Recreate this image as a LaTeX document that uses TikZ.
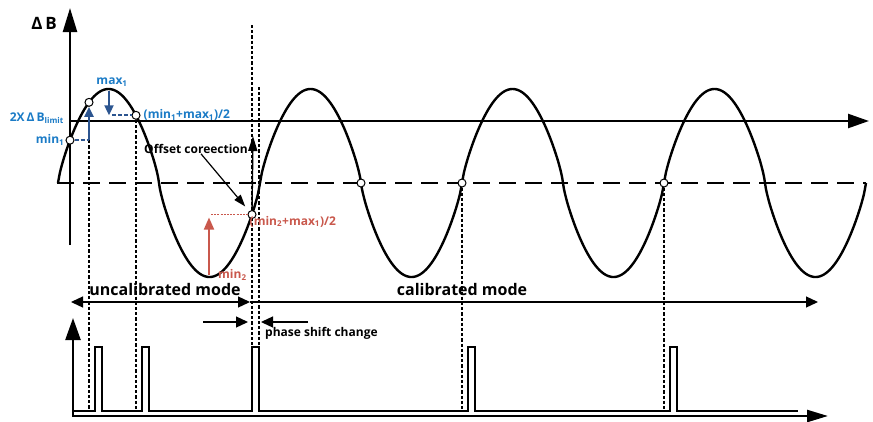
\documentclass[tikz,border=0pt]{standalone}
\usepackage{fontspec}
\setmainfont{Open Sans}
\usepackage{tikz}
\usetikzlibrary{arrows.meta,positioning}
\definecolor{calblue}{HTML}{1B7BC6}
\definecolor{calnavy}{HTML}{2C5590}
\definecolor{calred}{HTML}{C9584C}

\begin{document}
\begin{tikzpicture}[x=1pt,y=-1pt,
  declare function={ph(\t)=sin((\t-58)/202*360);
    wv(\t)=183-94*(ph(\t)<0 ? -1 : 1)*exp(0.78*ln(abs(ph(\t))+0.0001));},
  ax/.style={line width=2.4pt},
  wave/.style={line width=2.4pt,line join=round},
  dot/.style={circle,draw,fill=white,line width=1pt,inner sep=0pt,minimum size=8pt},
  vdot/.style={line width=2.1pt,dash pattern=on 3.2pt off 2pt},
  navyarr/.style={calnavy,line width=2pt,-{Triangle[length=10pt,width=9pt]}},
  navydash/.style={calnavy,line width=1.8pt,dash pattern=on 4pt off 2pt},
  redarr/.style={calred,line width=1.8pt,-{Triangle[length=12pt,width=10pt]}},
  reddot/.style={calred,line width=1pt,dash pattern=on 2pt off 1.2pt},
  thinarr/.style={line width=1.2pt,-{Triangle[length=12pt,width=8pt]}},
  modearr/.style={line width=1.3pt},
  lbl/.style={font=\bfseries\fontsize{12}{14}\selectfont,inner sep=0pt},
  bluelbl/.style={lbl,text=calblue},
  redlbl/.style={lbl,text=calred},
  modelbl/.style={font=\bfseries\fontsize{16}{18}\selectfont,inner sep=0pt}]
  \useasboundingbox (0,0) rectangle (873,421);

  \coordinate (pk1) at (109,91);
  \coordinate (tr1) at (209,275);
  \coordinate (oc) at (253,136);
  \coordinate (t1) at (252,25);
  \coordinate (t2) at (259,87);
  \coordinate (bt) at (0,411);
  \coordinate (ml) at (71,302);
  \coordinate (mm) at (250,302);
  \coordinate (mr) at (818,302);

  \draw[ax,-{Triangle[length=24pt,width=14pt]}] (70,245) -- (70,8);
  \draw[ax,line width=2.2pt,dash pattern=on 17pt off 9pt] (57,183) -- (866,183);
  \draw[wave] plot[domain=58:866,samples=405,smooth] (\x,{wv(\x)});
  \draw[ax,-{Triangle[length=21pt,width=14pt]}] (70,121) -- (869,121);
  \node[font=\bfseries\fontsize{17}{20}\selectfont] (dB) at (44,23) {Δ\,B};

  \draw[vdot] (t1) -- (t1 |- bt);
  \draw[vdot] (t2) -- (259,347);

  \node[dot] (m1) at (70,{wv(70)}) {};
  \node[dot] (x1) at (89,{wv(89)}) {};
  \node[dot] (h1) at (136,{wv(136)}) {};
  \node[dot] (h2) at (252,{wv(252)}) {};
  \node[dot] (z1) at (361,183) {};
  \node[dot] (z2) at (462,183) {};
  \node[dot] (z3) at (664,183) {};

  \draw[vdot] (x1 |- m1) -- (x1 |- bt);
  \draw[vdot] (h1.south) -- (h1 |- bt);
  \draw[vdot] (z2.south) -- (z2 |- bt);
  \draw[vdot] (z3.south) -- (z3 |- bt);

  \draw[navydash] (m1.east) -- (x1 |- m1);
  \draw[navyarr] (x1 |- m1) -- (x1.south);
  \draw[navyarr] (pk1) -- (pk1 |- h1);
  \draw[navydash] ([xshift=3pt]pk1 |- h1) -- (h1.west);
  \node[bluelbl] (lmax) at (112,82) {max\textsubscript{1}};
  \node[bluelbl,anchor=west] (lmid) at ([xshift=3pt]h1.east) {(min\textsubscript{1}+max\textsubscript{1})/2};
  \node[bluelbl,anchor=east] (llim) at (64,118) {2X\,Δ\,B\textsubscript{limit}};
  \node[bluelbl,anchor=east] (lmin) at ([xshift=-1pt]m1.west) {min\textsubscript{1}};

  \draw[reddot] ([xshift=2pt]tr1 |- h2) -- (h2.west);
  \draw[redarr,shorten >=3pt] (tr1) -- (tr1 |- h2);
  \node[redlbl,anchor=west] (lmin2) at ([xshift=9pt]tr1) {min\textsubscript{2}};
  \node[redlbl,anchor=west] (lmid2) at ([xshift=2pt,yshift=-7pt]h2.west) {(min\textsubscript{2}+max\textsubscript{1})/2};

  \draw[line width=1.4pt,-{Triangle[length=15pt,width=9pt]}] (h2.north) -- (oc);
  \node[lbl,anchor=east] (locr) at (248,149) {Offset coreection};
  \draw[thinarr,shorten >=6pt] ([xshift=5pt]locr.south) -- (h2);

  \draw[modearr,{Triangle[length=12pt,width=11pt]}-{Triangle[length=12pt,width=11pt]}] (ml) -- (mm);
  \draw[modearr,-{Triangle[length=12pt,width=11pt]}] (mm) -- (mr);
  \node[modelbl] (lunc) at (165,289) {uncalibrated mode};
  \node[modelbl] (lcal) at (462,289) {calibrated mode};

  \coordinate (pa) at (203,322);
  \coordinate (pb) at (308,322);
  \draw[modearr,-{Triangle[length=12pt,width=11pt]}] (pa) -- (248,322);
  \draw[modearr,-{Triangle[length=12pt,width=11pt]}] (pb) -- (261,322);
  \node[lbl,anchor=west] (lph) at (265,333) {phase shift change};

  \draw[line width=1.3pt] (73,411) foreach \p in {95,142,252,468,670}{
    -- (\p,411) -- (\p,347) -- ({\p+7},347) -- ({\p+7},411)} -- (798,411);
  \draw[ax,{Triangle[length=22pt,width=15pt]}-{Triangle[length=21pt,width=12pt]}] (73,318) -- (73,416) -- (828,416);
\end{tikzpicture}
\end{document}
